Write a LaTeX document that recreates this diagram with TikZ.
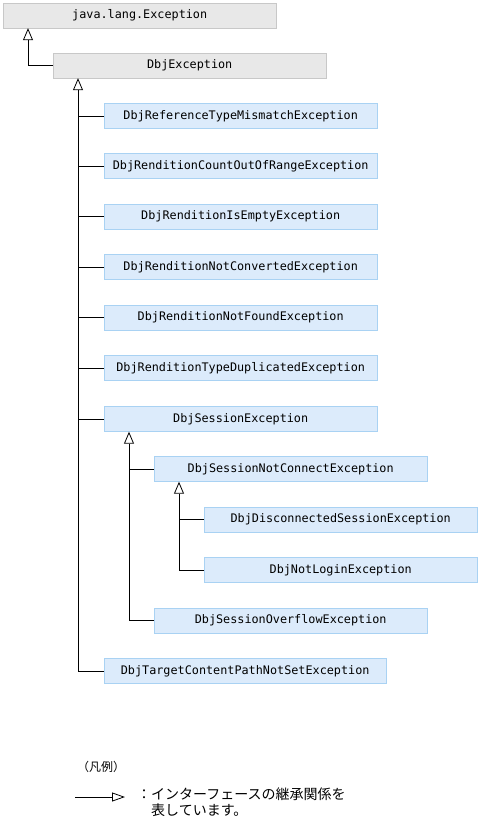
\documentclass[tikz,border=0pt]{standalone}
\usepackage{fontspec}
\setmonofont{DejaVu Sans Mono}
\newfontfamily\jpfont{Noto Sans CJK JP}
\usetikzlibrary{arrows.meta,calc}

\definecolor{basefill}{HTML}{E8E8E8}
\definecolor{basedraw}{HTML}{C8C8C8}
\definecolor{clsfill}{HTML}{DCEBFB}
\definecolor{clsdraw}{HTML}{A9D2F3}

\tikzset{
  basebox/.style={draw=basedraw, fill=basefill, anchor=west, minimum height=25pt,
    minimum width=273pt, inner sep=0pt, font=\ttfamily\fontsize{11.8}{12}\selectfont},
  clsbox/.style={basebox, draw=clsdraw, fill=clsfill},
  inh/.style={line width=0.8pt, -{Triangle[open, length=12pt, width=10pt]}},
  tick/.style={line width=0.8pt},
}

\begin{document}
\begin{tikzpicture}[x=1pt, y=-1pt]
  \useasboundingbox (0,0) rectangle (481,824);

  % base classes
  \node[basebox] (jexc) at (3,15.5) {java.lang.Exception};
  \node[basebox] (dbjexc) at (53,65.5) {DbjException};

  % subclasses of DbjException
  \node[clsbox] (reftype) at (104,116) {DbjReferenceTypeMismatchException};
  \node[clsbox] (rcount) at (104,166) {DbjRenditionCountOutOfRangeException};
  \node[clsbox] (rempty) at (104,216.5) {DbjRenditionIsEmptyException};
  \node[clsbox] (rnotconv) at (104,267) {DbjRenditionNotConvertedException};
  \node[clsbox] (rnotfound) at (104,317.5) {DbjRenditionNotFoundException};
  \node[clsbox] (rdup) at (104,368) {DbjRenditionTypeDuplicatedException};
  \node[clsbox] (session) at (104,419) {DbjSessionException};
  \node[clsbox] (notconn) at (154,469) {DbjSessionNotConnectException};
  \node[clsbox] (disconn) at (204,519.5) {DbjDisconnectedSessionException};
  \node[clsbox] (notlogin) at (204,570) {DbjNotLoginException};
  \node[clsbox] (overflow) at (154,620.5) {DbjSessionOverflowException};
  \node[clsbox, minimum width=282pt] (target) at (104,671) {DbjTargetContentPathNotSetException};

  % stems under each parent
  \coordinate (jexc-s) at ($(jexc.south west)+(25,0)$);
  \coordinate (dbjexc-s) at ($(dbjexc.south west)+(25,0)$);
  \coordinate (session-s) at ($(session.south west)+(25,0)$);
  \coordinate (notconn-s) at ($(notconn.south west)+(25,0)$);

  \draw[inh] (dbjexc.west) -| (jexc-s);
  \draw[inh] (target.west) -| (dbjexc-s);
  \foreach \c in {reftype,rcount,rempty,rnotconv,rnotfound,rdup,session}
    \draw[tick] (\c.west) -- (\c.west -| dbjexc-s);
  \draw[inh] (overflow.west) -| (session-s);
  \draw[tick] (notconn.west) -- (notconn.west -| session-s);
  \draw[inh] (notlogin.west) -| (notconn-s);
  \draw[tick] (disconn.west) -- (disconn.west -| notconn-s);

  % legend
  \node[font=\jpfont\fontsize{12}{13}\selectfont, anchor=west, inner sep=0pt] (legend) at (77,767) {（凡例）};
  \coordinate (lg-a) at (75,797);
  \coordinate (lg-b) at (125,797);
  \draw[line width=0.8pt, -{Triangle[open, length=13pt, width=9pt]}] (lg-a) -- (lg-b);
  \node[font=\jpfont\fontsize{14}{15.5}\selectfont, anchor=north west, align=left,
    inner sep=0pt] (legtxt) at (137,788)
    {：インターフェースの継承関係を\\\hspace{14pt}表しています。};
\end{tikzpicture}
\end{document}
